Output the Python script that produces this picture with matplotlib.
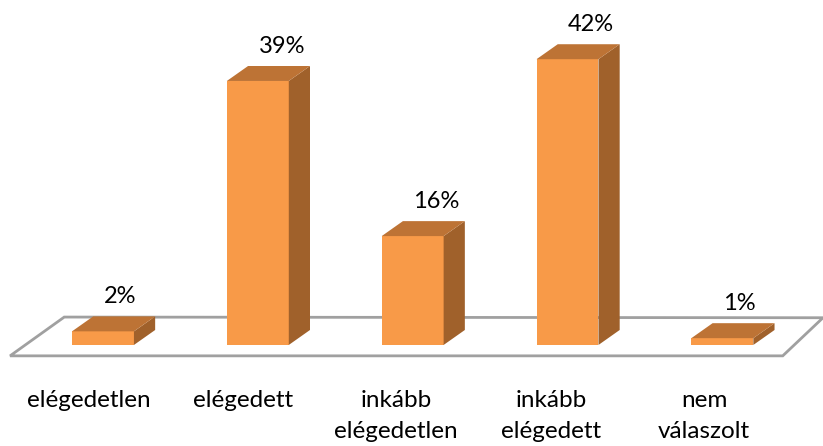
import matplotlib
matplotlib.use('Agg')
import matplotlib.pyplot as plt
from matplotlib.patches import Polygon

categories = ['elégedetlen', 'elégedett', 'inkább\nelégedetlen', 'inkább\nelégedett', 'nem\nválaszolt']
values = [2, 38.8, 16, 42, 1]
labels = ['2%', '39%', '16%', '42%', '1%']
label_shift = [0.11, 0.155, 0.155, 0.148, 0.11]
cat_shift = [-0.09, -0.097, -0.107, -0.105, -0.117]

plt.rcParams['font.family'] = ['Lato', 'DejaVu Sans']

# bar shape, in data units
half = 0.2
dx = 0.137
dy = 2.2

fig = plt.figure(figsize=(8.23, 4.46), dpi=100)
ax = fig.add_axes([0, 0, 1, 1])
ax.set_xlim(-0.665, 4.65)
ax.set_ylim(-14.85, 50.7)
ax.axis('off')

# floor of the 3d box
floor = Polygon([(-0.6, -1.6), (4.39, -1.6), (4.65, 4.0), (-0.25, 4.1)], closed=True,
                facecolor='white', edgecolor='#A0A0A0', linewidth=2, zorder=1)
ax.add_patch(floor)

for i, v in enumerate(values):
    front = Polygon([(i - half, 0), (i + half, 0), (i + half, v), (i - half, v)],
                    facecolor='#F89A48', edgecolor='none', zorder=3)
    side = Polygon([(i + half, 0), (i + half + dx, dy), (i + half + dx, v + dy), (i + half, v)],
                   facecolor='#A0612B', edgecolor='none', zorder=3)
    top = Polygon([(i - half, v), (i + half, v), (i + half + dx, v + dy), (i - half + dx, v + dy)],
                  facecolor='#BD7335', edgecolor='none', zorder=3)
    ax.add_patch(front)
    ax.add_patch(side)
    ax.add_patch(top)
    ax.text(i + label_shift[i], v + 3.55, labels[i], ha='center', va='bottom', fontsize=17, color='black', zorder=4)

for i, c in enumerate(categories):
    ax.text(i + cat_shift[i], -6.6, c, ha='center', va='top', fontsize=17.5, color='black', linespacing=1.58)

plt.savefig('out.png', dpi=100, facecolor='white')
